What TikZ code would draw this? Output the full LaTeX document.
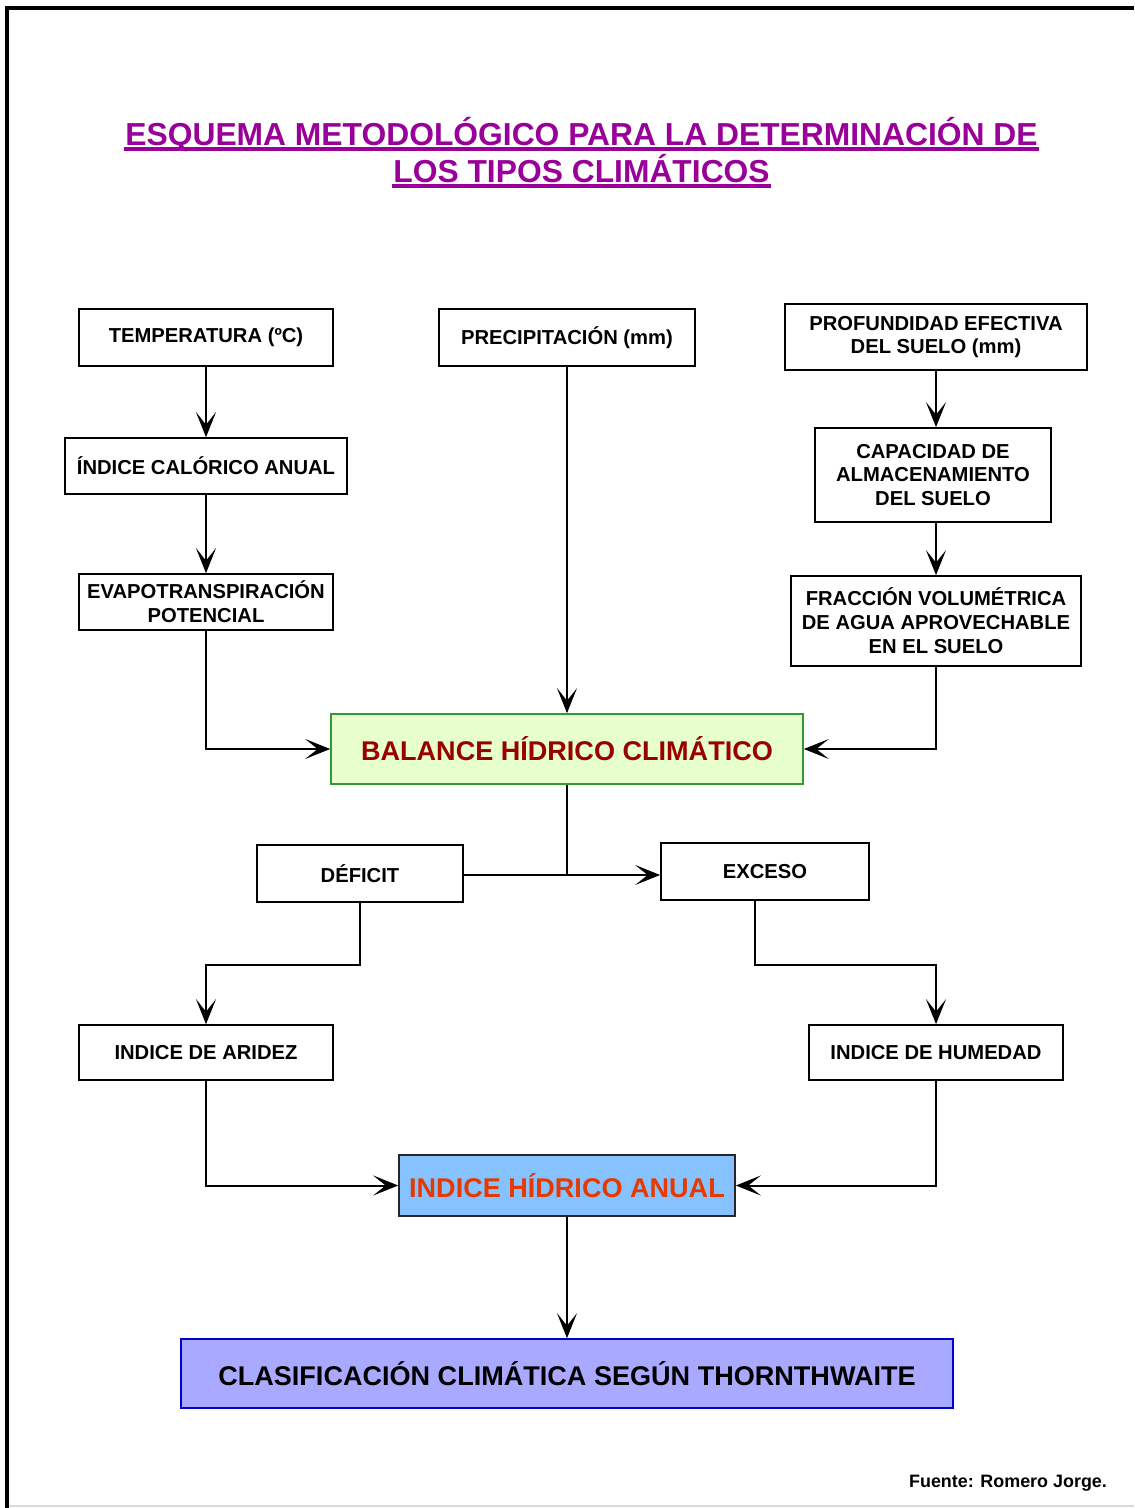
\documentclass[tikz,border=0pt]{standalone}
\usepackage{fontspec}
\setmainfont{Liberation Sans}
\usetikzlibrary{arrows.meta}

\definecolor{titulo}{HTML}{990099}
\definecolor{verdefondo}{HTML}{E6FFCC}
\definecolor{verdeborde}{HTML}{339933}
\definecolor{rojobalance}{HTML}{990000}
\definecolor{azulfondo}{HTML}{85C2FF}
\definecolor{naranja}{HTML}{E63900}
\definecolor{lilafondo}{HTML}{A9A9FF}
\definecolor{azulborde}{HTML}{0000CC}

\begin{document}
\begin{tikzpicture}[
      x = 0.02cm, y = -0.02cm,
      > = {Stealth[length=0.5cm, width=0.4cm, inset=0.25cm]},
      line width = 0.04cm,
      font = \bfseries\fontsize{11.5}{13.6}\selectfont]

      \tikzstyle{box}=[
      draw = black,
      fill = white,
      line width = 0.035cm,
      align = center,
      inner sep = 1pt]
      \tikzstyle{bigtext}=[font=\bfseries\fontsize{15.4}{18}\selectfont]
      \tikzstyle{titletext}=[
      text = titulo,
      inner sep = 0pt,
      anchor = base,
      font = \bfseries\fontsize{18.1}{21.5}\selectfont]
      \tikzstyle{titleline}=[titulo, line width=0.08cm]

      \useasboundingbox (0,0) rectangle (1134,1508);
      \draw[line width=0.08cm] (7,1508) -- (7,8) -- (1134,8);
      \draw[black!15, line width=0.03cm] (9,1506) -- (1134,1506);

      % title
      \node[titletext] (titleA) at (581.5,145) {ESQUEMA METODOLÓGICO PARA LA DETERMINACIÓN DE};
      \node[titletext] (titleB) at (581.5,182) {LOS TIPOS CLIMÁTICOS};
      \draw[titleline] ([yshift=-0.07cm]titleA.base west) -- ([yshift=-0.07cm]titleA.base east);
      \draw[titleline] ([yshift=-0.07cm]titleB.base west) -- ([yshift=-0.07cm]titleB.base east);

      % inputs
      \node[box, minimum width=5.08cm, minimum height=1.14cm] (temp) at (206,337.5) {TEMPERATURA (ºC)};
      \node[box, minimum width=5.12cm, minimum height=1.14cm] (precip) at (567,337.5) {PRECIPITACIÓN (mm)};
      \node[box, minimum width=6.04cm, minimum height=1.32cm] (prof) at (936,337) {PROFUNDIDAD EFECTIVA\\DEL SUELO (mm)};
      \node[box, minimum width=5.64cm, minimum height=1.12cm] (indcal) at (206,466) {ÍNDICE CALÓRICO ANUAL};
      \node[box, minimum width=4.72cm, minimum height=1.88cm] (capac) at (933,475) {CAPACIDAD DE\\ALMACENAMIENTO\\DEL SUELO};
      \node[box, minimum width=5.08cm, minimum height=1.12cm] (evapo) at (206,602) {EVAPOTRANSPIRACIÓN\\POTENCIAL};
      \node[box, minimum width=5.80cm, minimum height=1.80cm] (fracc) at (936,621) {FRACCIÓN VOLUMÉTRICA\\DE AGUA APROVECHABLE\\EN EL SUELO};

      \node[box, bigtext, draw=verdeborde, fill=verdefondo, text=rojobalance,
            minimum width=9.44cm, minimum height=1.40cm] (balance) at (567,749) {BALANCE HÍDRICO CLIMÁTICO};

      \node[box, minimum width=4.12cm, minimum height=1.14cm] (deficit) at (360,873.5) {DÉFICIT};
      \node[box, minimum width=4.16cm, minimum height=1.14cm] (exceso) at (765,871.5) {EXCESO};
      \node[box, minimum width=5.08cm, minimum height=1.10cm] (aridez) at (206,1052.5) {INDICE DE ARIDEZ};
      \node[box, minimum width=5.08cm, minimum height=1.10cm] (humedad) at (936,1052.5) {INDICE DE HUMEDAD};

      \node[box, bigtext, draw=black!85, fill=azulfondo, text=naranja,
            minimum width=6.72cm, minimum height=1.22cm] (indhid) at (567,1185.5) {INDICE HÍDRICO ANUAL};
      \node[box, bigtext, draw=azulborde, fill=lilafondo,
            minimum width=15.44cm, minimum height=1.38cm] (clasif) at (567,1373.5) {CLASIFICACIÓN CLIMÁTICA SEGÚN THORNTHWAITE};

      % connectors
      \draw[->] (temp) -- (indcal);
      \draw[->] (indcal) -- (evapo);
      \draw[->] (evapo.south) |- (balance.west);
      \draw[->] (precip) -- (balance);
      \draw[->] (prof) -- (prof |- capac.north);
      \draw[->] (prof |- capac.south) -- (fracc);
      \draw[->] (fracc.south) |- (balance.east);
      \draw[->] ([yshift=-0.03cm]deficit.east) -- ([yshift=-0.03cm]deficit.east -| exceso.west);
      \draw (balance.south) -- ([yshift=-0.03cm]balance.south |- deficit.east);
      \draw[->] (deficit.south) -- ++(0,62) -| (aridez.north);
      \draw[->] ([xshift=-0.2cm]exceso.south) -- ++(0,64) -| (humedad.north);
      \draw[->] (aridez.south) |- (indhid.west);
      \draw[->] (humedad.south) |- (indhid.east);
      \draw[->] (indhid) -- (clasif);

      \node[font=\bfseries\fontsize{10.2}{12}\selectfont, anchor=base] (fuente) at (1008,1487) {Fuente: Romero Jorge.};
		\end{tikzpicture}
\end{document}
